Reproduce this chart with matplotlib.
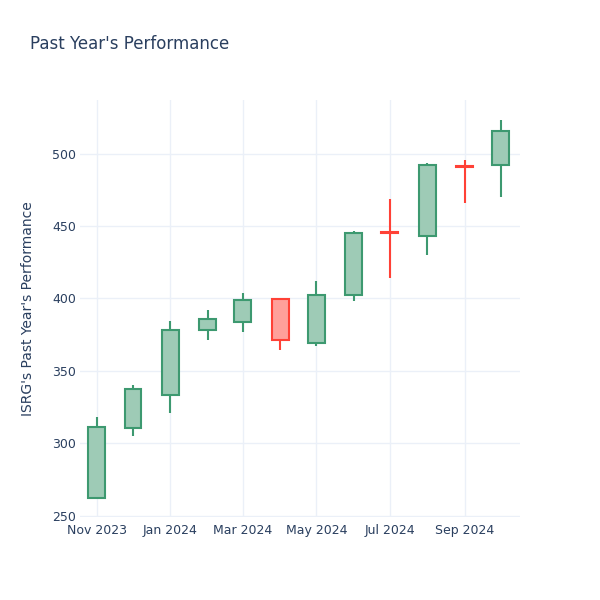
import matplotlib
matplotlib.use("Agg")
import matplotlib.pyplot as plt
import matplotlib.dates as mdates
import numpy as np
import datetime as dt

plt.rcParams['font.family'] = ['DejaVu Sans']

# monthly candles, ISRG
months = ["2023-11-01", "2023-12-01", "2024-01-01", "2024-02-01", "2024-03-01", "2024-04-01",
          "2024-05-01", "2024-06-01", "2024-07-01", "2024-08-01", "2024-09-01", "2024-10-01"]
opens = [262.4, 310.5, 333.2, 378.3, 383.6, 399.3, 369.1, 402.5, 445.8, 443.2, 491.6, 492.2]
highs = [318.3, 340.4, 384.1, 392.0, 403.6, 399.3, 412.1, 446.6, 468.5, 493.8, 495.6, 523.0]
lows = [262.4, 304.7, 320.6, 371.2, 376.7, 364.5, 367.3, 397.9, 413.8, 429.9, 466.0, 470.1]
closes = [310.9, 337.4, 378.3, 385.7, 399.0, 371.0, 402.2, 444.8, 445.0, 492.4, 491.0, 515.4]
xticks = ["2023-11-01", "2024-01-01", "2024-03-01", "2024-05-01", "2024-07-01", "2024-09-01"]

inc_line, inc_fill = "#3D9970", "#9ecbb6"
dec_line, dec_fill = "#FF4136", "#ffa09a"
txt = "#2a3f5f"
grid = "#ebf0f8"

dates = [mdates.date2num(dt.datetime.strptime(m, "%Y-%m-%d")) for m in months]

fig = plt.figure(figsize=(6, 6), dpi=100)
ax = fig.add_axes([80/600, 83/600, 440/600, 417/600])

for d, o, h, l, c in zip(dates, opens, highs, lows, closes):
    up = c >= o
    col = inc_line if up else dec_line
    fill = inc_fill if up else dec_fill
    ax.vlines(d, l, h, color=col, linewidth=1.5, zorder=2)
    ax.bar(d, abs(c - o), bottom=min(o, c), width=14, facecolor=fill,
           edgecolor=col, linewidth=1.5, zorder=3)

ax.set_xlim(mdates.date2num(dt.datetime(2023, 10, 18)), mdates.date2num(dt.datetime(2024, 10, 17)))
ax.set_ylim(249, 537)
ax.set_yticks([250, 300, 350, 400, 450, 500])
ax.set_xticks([mdates.date2num(dt.datetime.strptime(t, "%Y-%m-%d")) for t in xticks])
ax.xaxis.set_major_formatter(mdates.DateFormatter("%b %Y"))
ax.grid(True, color=grid, linewidth=1)
ax.set_axisbelow(True)
for s in ax.spines.values():
    s.set_visible(False)
ax.tick_params(length=0, labelsize=9, labelcolor=txt)
ax.tick_params(axis="x", pad=5)
ax.tick_params(axis="y", pad=3)
ax.set_ylabel("ISRG's Past Year's Performance", fontsize=10, color=txt, labelpad=12)
fig.text(30/600, 1 - 44/600, "Past Year's Performance", fontsize=12, color=txt, va="center")

fig.savefig("out.png", dpi=100)
